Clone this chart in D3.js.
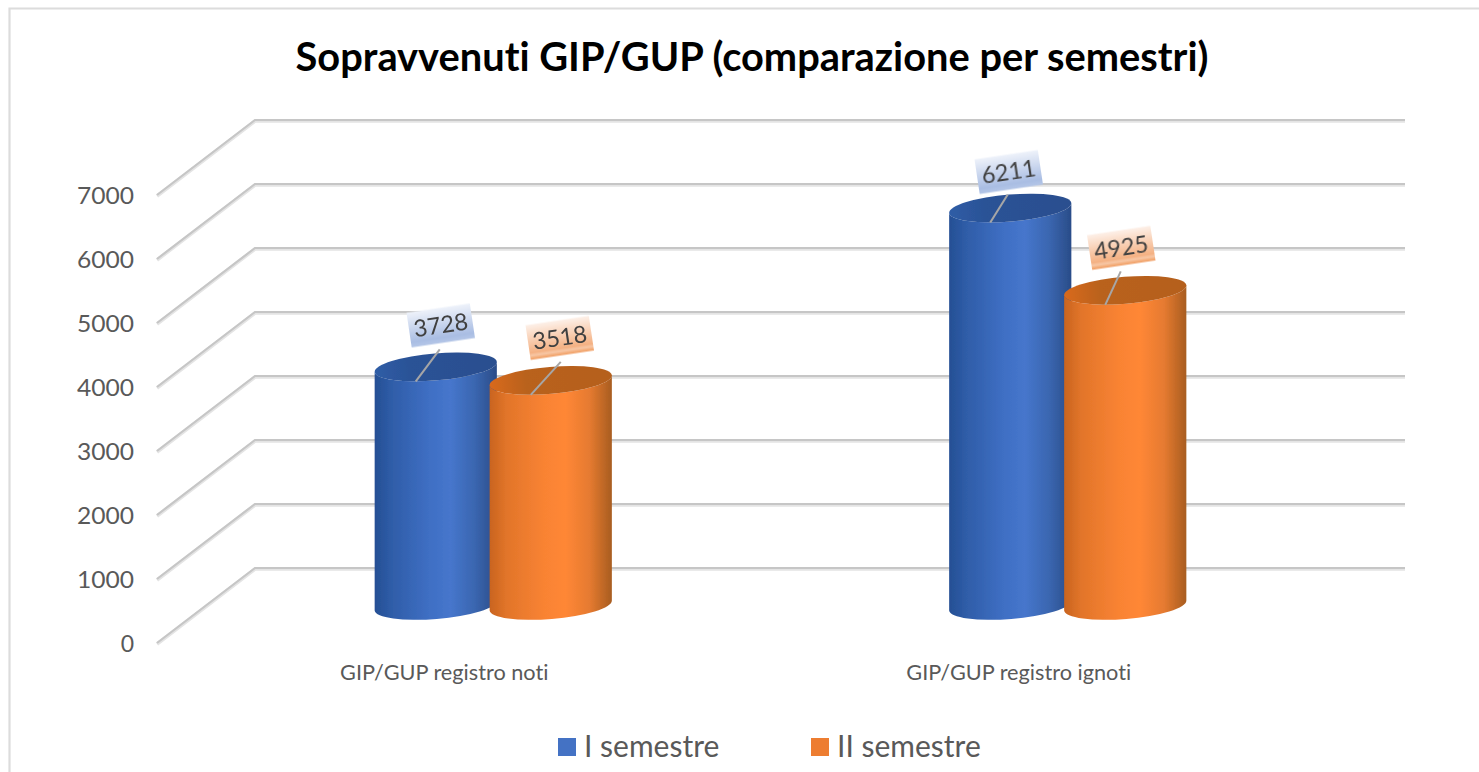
<!DOCTYPE html>
<html><head><meta charset="utf-8">
<script src="https://cdn.jsdelivr.net/npm/d3@7"></script>
<style>html,body{margin:0;padding:0;background:#fff}svg{display:block}text{font-family:Lato,"Open Sans",sans-serif;font-variant-ligatures:none}</style>
</head><body><div id="c"></div>
<script>
const categories = ["GIP/GUP registro noti", "GIP/GUP registro ignoti"];
const seriesNames = ["I semestre", "II semestre"];
const semestre1 = [3728, 6211];
const semestre2 = [3518, 4925];
const yTicks = [0, 1000, 2000, 3000, 4000, 5000, 6000, 7000];
const seriesColors = ["#4472c4", "#ed7d31"];
const title = "Sopravvenuti GIP/GUP (comparazione per semestri)";

const W = 1479, H = 772;
const depth = {dx: 98, dy: 75};
const y = d3.scaleLinear().domain([0, 7000]).range([568, 120]);
const x0 = d3.scaleBand().domain(categories).range([157, 1306]);
const x1 = d3.scaleBand().domain(seriesNames).range([-115, 115]);
const svg = d3.select("#c").append("svg").attr("width", W).attr("height", H);
const defs = svg.append("defs");

const bodyStops = [
  [[0, "#254f94"], [.14, "#2f5da8"], [.45, "#3f6fc4"], [.62, "#4676cc"], [.82, "#3a66b0"], [1, "#2a4c88"]],
  [[0, "#c9641f"], [.14, "#e2752a"], [.45, "#f98333"], [.62, "#ff8736"], [.82, "#e57a30"], [1, "#a85d20"]]
];
const topStops = [
  [[0, "#2f5da6"], [.3, "#2b5296"], [1, "#2b4f8f"]],
  [[0, "#d9691f"], [.3, "#b9621f"], [1, "#b5601f"]]
];
seriesColors.forEach((c, i) => {
  const g = defs.append("linearGradient").attr("id", "body" + i);
  bodyStops[i].forEach(([o, k]) => g.append("stop").attr("offset", o).attr("stop-color", k));
  const t = defs.append("linearGradient").attr("id", "top" + i);
  topStops[i].forEach(([o, k]) => t.append("stop").attr("offset", o).attr("stop-color", k));
  const l = defs.append("linearGradient").attr("id", "lab" + i).attr("x1", 0).attr("x2", 0).attr("y1", 0).attr("y2", 1);
  const lc = i === 0 ? [["0", "#eef2fa"], [".85", "#a9bde3"], ["1", "#b4c6e7"]] : [["0", "#fdf0e8"], [".8", "#f4b183"], [".88", "#f7c7a5"], ["1", "#f09a5c"]];
  lc.forEach(([o, k]) => l.append("stop").attr("offset", o).attr("stop-color", k));
});
defs.append("filter").attr("id", "soft").append("feGaussianBlur").attr("stdDeviation", .6);

// frame: top and left edges only, the rest falls off the crop
svg.append("path").attr("d", `M${W},8.5L9.5,8.5L9.5,${H}`).attr("fill", "none").attr("stroke", "#dcdcdc").attr("stroke-width", 2.2);

// title
svg.append("text").attr("x", 752).attr("y", 71).attr("text-anchor", "middle").attr("font-size", 39.8).attr("font-weight", 700).attr("fill", "#000").text(title);

// grid
const grid = svg.append("g").attr("filter", "url(#soft)");
yTicks.forEach(t => {
  const p = `M${157},${y(t) + depth.dy}L${157 + depth.dx},${y(t)}L1405,${y(t)}`;
  grid.append("path").attr("d", p).attr("fill", "none").attr("stroke", "#e4e4e4").attr("stroke-width", 3.6).attr("transform", "translate(0,1)");
  grid.append("path").attr("d", p).attr("fill", "none").attr("stroke", "#c6c6c6").attr("stroke-width", 2.2);
});

// y tick labels
svg.append("g").selectAll("text").data(yTicks).join("text")
  .attr("x", 134).attr("y", d => y(d) + depth.dy + 9).attr("text-anchor", "end")
  .attr("font-size", 23).attr("textLength", d => d === 0 ? null : 57).attr("lengthAdjust", "spacingAndGlyphs")
  .attr("fill", "#595959").text(d => d);

// category labels
svg.append("g").selectAll("text").data(categories).join("text")
  .attr("x", d => x0(d) + x0.bandwidth() / 2).attr("y", 680).attr("text-anchor", "middle")
  .attr("font-size", 21.7).attr("fill", "#595959").text(d => d);

// cylinders
const rx = 61.3, ry = 13.5, rot = -4.7, rad = rot * Math.PI / 180;
const ex = rx * Math.cos(rad), ey = rx * Math.sin(rad);
const cyl = [];
seriesNames.forEach((s, si) => {
  const vals = si === 0 ? semestre1 : semestre2;
  categories.forEach((c, ci) => cyl.push({c, s, si, ci, v: vals[ci]}));
});
const labelNudge = [[5, -41.5], [-1.5, -36], [9, -42.5], [-4, -42.5]];
const leaderTop = [[4, -17.5], [-2.5, -13.5], [10, -18.5], [-4.5, -19]];
const marks = svg.append("g").attr("filter", "url(#soft)");
cyl.forEach(d => {
  d.cx = x0(d.c) + x0.bandwidth() / 2 + x1(d.s) + x1.bandwidth() / 2 + depth.dx / 2;
  d.base = y(0) + depth.dy / 2;
  d.top = y(d.v) + depth.dy / 2;
  const path = `M${d.cx - ex},${d.top - ey}L${d.cx - ex},${d.base - ey}A${rx},${ry} ${rot} 0 0 ${d.cx + ex},${d.base + ey}L${d.cx + ex},${d.top + ey}A${rx},${ry} ${rot} 0 1 ${d.cx - ex},${d.top - ey}Z`;
  marks.append("path").attr("d", path).attr("fill", `url(#body${d.si})`);
  marks.append("ellipse").attr("rx", rx).attr("ry", ry)
    .attr("transform", `translate(${d.cx},${d.top}) rotate(${rot})`)
    .attr("fill", `url(#top${d.si})`);
});
cyl.forEach((d, i) => {
  const [lx, ly] = labelNudge[i], [tx, ty] = leaderTop[i];
  marks.append("line").attr("x1", d.cx + tx).attr("y1", d.top + ty).attr("x2", d.cx - 20).attr("y2", d.top + 14.5)
    .attr("stroke", "#a6a6a6").attr("stroke-width", 2);
  const g = svg.append("g").attr("transform", `translate(${d.cx + lx},${d.top + ly}) rotate(-8.5)`);
  g.append("rect").attr("x", -32).attr("y", -17.5).attr("width", 64).attr("height", 35).attr("fill", `url(#lab${d.si})`).attr("filter", "url(#soft)");
  g.append("text").attr("text-anchor", "middle").attr("y", 8).attr("font-size", 23.5).attr("fill", "#404040").text(d.v);
});

// legend
const legendX = [558, 811];
seriesNames.forEach((s, i) => {
  svg.append("rect").attr("x", legendX[i]).attr("y", 738).attr("width", 18).attr("height", 18).attr("fill", seriesColors[i]);
  svg.append("text").attr("x", legendX[i] + 26).attr("y", 757).attr("font-size", 30).attr("fill", "#595959").text(s);
});
</script></body></html>
